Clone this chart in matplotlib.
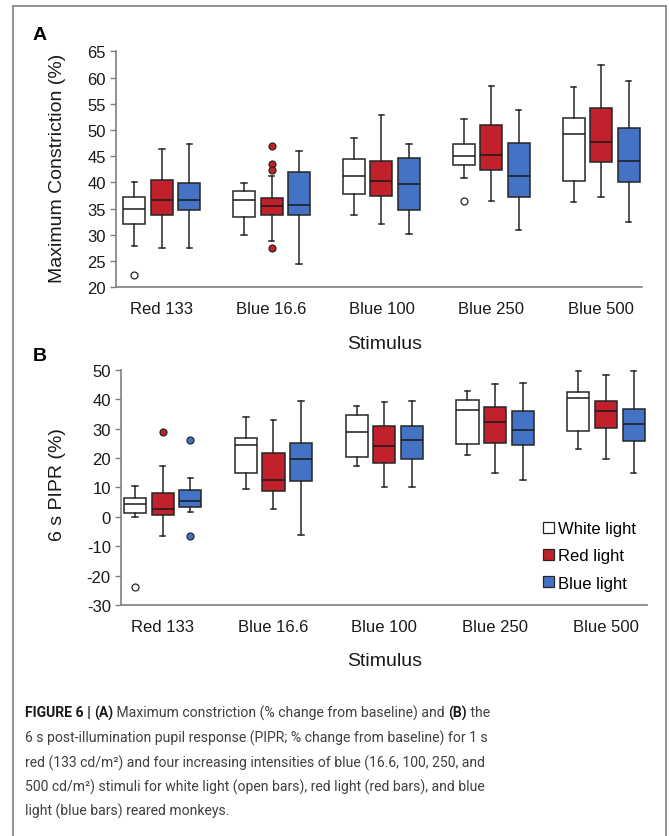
import numpy as np
import matplotlib
matplotlib.use("Agg")
import matplotlib.pyplot as plt
from matplotlib.patches import Patch
from matplotlib.lines import Line2D

plt.rcParams['font.family'] = ['Liberation Sans', 'DejaVu Sans']
plt.rcParams['axes.unicode_minus'] = False

W, H = 669, 837

groups = ['Red 133', 'Blue 16.6', 'Blue 100', 'Blue 250', 'Blue 500']
series = ['White light', 'Red light', 'Blue light']
colors = ['#ffffff', '#c0212b', '#4472c4']

# panel A: maximum constriction (%)
white_a_lo = [27.9, 30.0, 33.8, 40.8, 36.3]
white_a_q1 = [32.1, 33.5, 37.7, 43.4, 40.2]
white_a_med = [34.9, 36.6, 41.3, 45.0, 49.2]
white_a_q3 = [37.3, 38.3, 44.5, 47.4, 52.3]
white_a_hi = [40.1, 39.8, 48.5, 52.1, 58.1]
white_a_out = [[22.3], [], [], [36.4], []]

red_a_lo = [27.5, 28.8, 32.1, 36.5, 37.2]
red_a_q1 = [33.7, 33.7, 37.4, 42.4, 43.8]
red_a_med = [36.6, 35.5, 40.2, 45.3, 47.8]
red_a_q3 = [40.5, 37.0, 44.1, 50.9, 54.1]
red_a_hi = [46.4, 41.2, 52.9, 58.4, 62.3]
red_a_out = [[], [47.0, 43.6, 42.4, 27.4], [], [], []]

blue_a_lo = [27.5, 24.4, 30.2, 30.9, 32.5]
blue_a_q1 = [34.8, 33.8, 34.8, 37.3, 40.1]
blue_a_med = [36.6, 35.7, 39.7, 41.3, 44.1]
blue_a_q3 = [39.9, 41.9, 44.6, 47.6, 50.4]
blue_a_hi = [47.4, 45.9, 47.4, 53.9, 59.3]
blue_a_out = [[], [], [], [], []]

# panel B: 6 s PIPR (%)
white_b_lo = [-0.2, 9.5, 17.2, 20.9, 23.0]
white_b_q1 = [1.2, 14.8, 20.3, 24.7, 29.1]
white_b_med = [4.4, 24.3, 28.8, 36.3, 40.3]
white_b_q3 = [6.4, 26.9, 34.6, 39.7, 42.3]
white_b_hi = [10.3, 33.8, 37.5, 42.9, 49.5]
white_b_out = [[-23.9], [], [], [], []]

red_b_lo = [-6.4, 2.7, 10.1, 15.0, 19.6]
red_b_q1 = [0.7, 8.8, 18.4, 25.2, 30.1]
red_b_med = [2.8, 12.5, 24.1, 32.2, 35.8]
red_b_q3 = [8.2, 21.8, 30.9, 37.2, 39.3]
red_b_hi = [17.2, 32.8, 39.0, 45.2, 48.3]
red_b_out = [[28.7], [], [], [], []]

blue_b_lo = [1.6, -6.2, 10.1, 12.6, 14.8]
blue_b_q1 = [3.3, 12.2, 19.6, 24.4, 25.9]
blue_b_med = [5.4, 19.8, 26.1, 29.4, 31.5]
blue_b_q3 = [9.0, 25.0, 30.7, 35.8, 36.7]
blue_b_hi = [13.1, 39.4, 39.4, 45.4, 49.5]
blue_b_out = [[26.2, -6.5], [], [], [], []]

panel_a = [
    (white_a_lo, white_a_q1, white_a_med, white_a_q3, white_a_hi, white_a_out),
    (red_a_lo, red_a_q1, red_a_med, red_a_q3, red_a_hi, red_a_out),
    (blue_a_lo, blue_a_q1, blue_a_med, blue_a_q3, blue_a_hi, blue_a_out),
]
panel_b = [
    (white_b_lo, white_b_q1, white_b_med, white_b_q3, white_b_hi, white_b_out),
    (red_b_lo, red_b_q1, red_b_med, red_b_q3, red_b_hi, red_b_out),
    (blue_b_lo, blue_b_q1, blue_b_med, blue_b_q3, blue_b_hi, blue_b_out),
]


def px_rect(x0, y0, x1, y1):
    # pixel box (top-left origin) -> figure fraction rect
    return [x0 / W, 1 - y1 / H, (x1 - x0) / W, (y1 - y0) / H]


def draw_panel(ax, data):
    x = np.arange(len(groups))
    for i, (lo, q1, med, q3, hi, out) in enumerate(data):
        stats = []
        for j in range(len(groups)):
            stats.append(dict(whislo=lo[j], q1=q1[j], med=med[j], q3=q3[j],
                              whishi=hi[j], fliers=out[j]))
        ax.bxp(stats, positions=x + (i - 1) * 0.25, widths=0.2,
               patch_artist=True, showfliers=True, manage_ticks=False,
               boxprops=dict(facecolor=colors[i], edgecolor='#262626', linewidth=1.1),
               medianprops=dict(color='#1a1a1a', linewidth=1.1),
               whiskerprops=dict(color='#262626', linewidth=1.1),
               capprops=dict(color='#262626', linewidth=1.1),
               capwidths=0.05,
               flierprops=dict(marker='o', markersize=5, markerfacecolor=colors[i],
                               markeredgecolor='#262626', markeredgewidth=0.9))
    ax.set_xticks(x)
    ax.set_xticklabels(groups, fontsize=12, color='#1a1a1a')
    ax.tick_params(axis='x', length=0, pad=10)
    ax.tick_params(axis='y', direction='out', length=4, width=1, color='#7f7f7f',
                   labelsize=12, labelcolor='#1a1a1a', pad=3)
    for s in ['top', 'right']:
        ax.spines[s].set_visible(False)
    for s in ['left', 'bottom']:
        ax.spines[s].set_color('#7f7f7f')
        ax.spines[s].set_linewidth(1.2)


fig = plt.figure(figsize=(W / 100, H / 100), dpi=100)

# outer frame
frame_kw = dict(transform=fig.transFigure, color='#8a8a8a', lw=1.3)
fig.add_artist(Line2D([13 / W, 13 / W], [1 - 7 / H, -0.05], **frame_kw))
fig.add_artist(Line2D([666 / W, 666 / W], [1 - 7 / H, -0.05], **frame_kw))
fig.add_artist(Line2D([13 / W, 666 / W], [1 - 7 / H, 1 - 7 / H], **frame_kw))

ax1 = fig.add_axes(px_rect(115.7, 52.3, 641.7, 288.3))
draw_panel(ax1, panel_a)
ax1.set_xlim(-0.42, 4.37)
ax1.set_ylim(20, 65)
ax1.set_yticks(np.arange(20, 66, 5))

ax2 = fig.add_axes(px_rect(120.5, 370.7, 647, 606))
draw_panel(ax2, panel_b)
ax2.set_xlim(-0.38, 4.37)
ax2.set_ylim(-30, 50)
ax2.set_yticks(np.arange(-30, 51, 10))

handles = [Patch(facecolor=c, edgecolor='#262626', linewidth=0.9) for c in colors]
ax2.legend(handles, series, loc='upper left', bbox_to_anchor=(543 / W, 1 - 522 / H),
           bbox_transform=fig.transFigure, frameon=False, fontsize=12,
           handlelength=0.65, handleheight=0.65, handletextpad=0.25, labelspacing=0.74,
           borderaxespad=0, borderpad=0)

# panel letters and axis titles
fig.text(33 / W, 1 - 36 / H, 'A', fontsize=14, weight='bold', ha='left', va='center')
fig.text(33 / W, 1 - 357 / H, 'B', fontsize=14, weight='bold', ha='left', va='center')
fig.text(58 / W, 1 - 168 / H, 'Maximum Constriction (%)', fontsize=14, rotation=90,
         ha='center', va='center', color='#1a1a1a')
fig.text(58 / W, 1 - 485 / H, '6 s PIPR (%)', fontsize=14, rotation=90,
         ha='center', va='center', color='#1a1a1a')
fig.text(385 / W, 1 - 345 / H, 'Stimulus', fontsize=14, ha='center', va='center',
         color='#1a1a1a')
fig.text(385 / W, 1 - 662 / H, 'Stimulus', fontsize=14, ha='center', va='center',
         color='#1a1a1a')

# caption with mixed weights
cap_font = ['Roboto', 'Liberation Sans', 'DejaVu Sans']
cap_lines = [
    [("FIGURE 6 | ", 'bold'), ("(A)", 'bold'),
     (" Maximum constriction (% change from baseline) and ", 'normal'),
     ("(B)", 'bold'), (" the", 'normal')],
    [("6 s post-illumination pupil response (PIPR; % change from baseline) for 1 s", 'normal')],
    [("red (133 cd/m²) and four increasing intensities of blue (16.6, 100, 250, and", 'normal')],
    [("500 cd/m²) stimuli for white light (open bars), red light (red bars), and blue", 'normal')],
    [("light (blue bars) reared monkeys.", 'normal')],
]
cap_y = [713, 738, 763, 787, 811]
renderer = fig.canvas.get_renderer()

# fit caption size so line 2 spans the same width as in the figure (~463 px)
probe = fig.text(0, 0, cap_lines[1][0][0], fontsize=10, family=cap_font)
cap_size = 10 * 463 / probe.get_window_extent(renderer).width
probe.remove()

for runs, yy in zip(cap_lines, cap_y):
    xx = 25
    for txt, wt in runs:
        t = fig.text(xx / W, 1 - yy / H, txt, fontsize=cap_size, weight=wt,
                     family=cap_font, ha='left', va='center',
                     color='#1a1a1a' if wt == 'bold' else '#404040')
        xx += t.get_window_extent(renderer).width

fig.savefig('out.png', dpi=100)
